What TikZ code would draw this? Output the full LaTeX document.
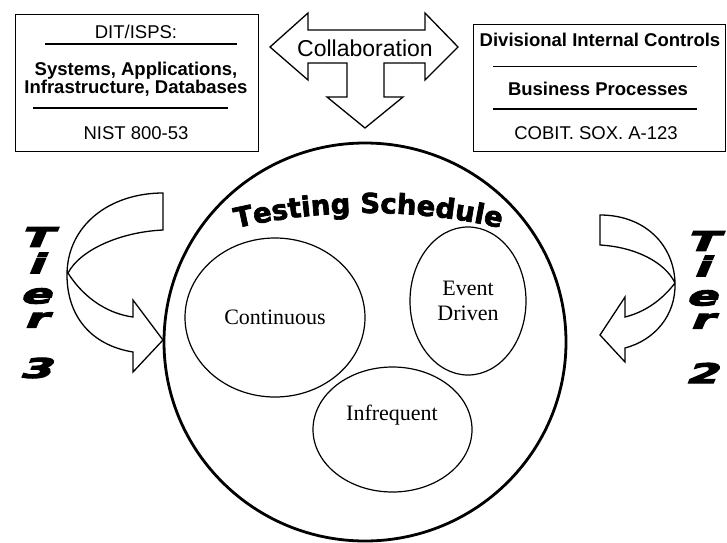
\documentclass[tikz,border=0pt]{standalone}
\usepackage{fontspec}
\usepackage{graphicx}
\setmainfont{Liberation Serif}
\setsansfont{Liberation Sans}
\newfontfamily\heavyfont{DejaVu Sans}[BoldFeatures={FakeBold=2.5}]
\newfontfamily\tierfont{DejaVu Sans}[BoldFeatures={FakeBold=4,FakeSlant=0.25}]
\usetikzlibrary{shapes.geometric,decorations.text}
\newcommand{\tsfont}{\heavyfont\bfseries\fontsize{27.5}{27.5}\selectfont}
\newcommand{\tierglyph}[1]{\scalebox{1.7}[1]{\tierfont\bfseries\fontsize{27}{27}\selectfont #1}}

\begin{document}
\begin{tikzpicture}[x=1pt,y=-1pt,
    boxtext/.style={font=\sffamily\bfseries\fontsize{18.5}{18}\selectfont,inner sep=0pt,align=center},
    plaintext/.style={font=\sffamily\fontsize{18.5}{18}\selectfont,inner sep=0pt},
    rule/.style={line width=2.5pt},
    bubble/.style={draw,ellipse,line width=1.2pt,inner sep=0pt,align=center,
      font=\rmfamily\fontsize{22}{24}\selectfont},
    blockarrow/.style={draw,line width=1.3pt,line join=miter,fill=white},
    tierletter/.style={inner sep=0pt}]
  \useasboundingbox (0,0) rectangle (727,542);

  % left box
  \node[draw,line width=1pt,minimum width=243pt,minimum height=137pt] (itbox) at (136.5,82.5) {};
  \node[plaintext] (dit) at (136,32) {DIT/ISPS:};
  \node[boxtext] (itsys) at (136,79) {Systems, Applications,\\Infrastructure, Databases};
  \node[plaintext] (nist) at (136,133) {NIST 800-53};
  \draw[rule] (45,44) -- (237,44);
  \draw[rule] (33,108) -- (228,108);

  % right box
  \node[draw,line width=1pt,minimum width=252pt,minimum height=127pt] (bizbox) at (599,87.5) {};
  \node[boxtext] (divctl) at (600,40) {Divisional Internal Controls};
  \node[boxtext] (bizproc) at (598,89) {Business Processes};
  \node[plaintext] (cobit) at (596,133) {COBIT. SOX. A-123};
  \draw[line width=1pt] (493,66) -- (697,66);
  \draw[rule] (493,109) -- (697,109);

  % collaboration arrow
  \draw[blockarrow] (270,47) -- (308,13) -- (308,30) -- (425,30) -- (425,13) -- (458,47)
    -- (425,80) -- (425,63) -- (384,63) -- (384,97) -- (403,97) -- (365,128)
    -- (327,97) -- (347,97) -- (347,63) -- (308,63) -- (308,80) -- cycle;
  \node[font=\sffamily\fontsize{23}{23}\selectfont,inner sep=0pt] (collab) at (365,48) {Collaboration};

  % schedule circle
  \node[draw,ellipse,line width=2.8pt,minimum width=402pt,minimum height=398pt] (sched) at (365,342) {};
  \path[decorate,decoration={text along path,text align=center,text={|\tsfont|Testing Schedule}}]
    (368.5,799) ++(-106:586) arc[start angle=-106,end angle=-74,radius=586];

  \node[bubble,minimum width=180pt,minimum height=159pt] (contin) at (275,317.5) {Continuous};
  \node[bubble,minimum width=116pt,minimum height=148pt] (event) at (468,301) {Event\\[1pt]Driven};
  \node[bubble,minimum width=159pt,minimum height=125pt] (infreq) at (392.5,429.5) {};
  \node[font=\rmfamily\fontsize{22}{24}\selectfont,inner sep=0pt] (infreqtext) at (392,415) {Infrequent};

  % tier 3 arrow
  \draw[blockarrow] (163,193) -- (163,230) .. controls (120,232) and (80,250) .. (68,273)
    .. controls (85,300) and (110,314) .. (133,317) -- (133,300) -- (163,340) -- (133,372)
    -- (133,352) .. controls (90,345) and (67,315) .. (67,275) .. controls (67,225) and (110,193) .. cycle;

  % tier 2 arrow
  \draw[blockarrow] (600,215) -- (600,245) .. controls (635,247) and (665,262) .. (675,283)
    .. controls (662,300) and (645,312) .. (625,317) -- (625,297) -- (600,335) -- (625,362)
    -- (625,348) .. controls (655,340) and (676,315) .. (675,283) .. controls (674,245) and (645,215) .. cycle;

  \foreach \l/\y [count=\k] in {T/237, i/263, e/296, r/320, 3/368}{
    \node[tierletter] (tthree\k) at (35,\y) {\tierglyph{\l}};
  }
  \foreach \l/\y [count=\k] in {T/241, i/266, e/298, r/321, 2/373}{
    \node[tierletter] (ttwo\k) at (701,\y) {\tierglyph{\l}};
  }
\end{tikzpicture}
\end{document}
